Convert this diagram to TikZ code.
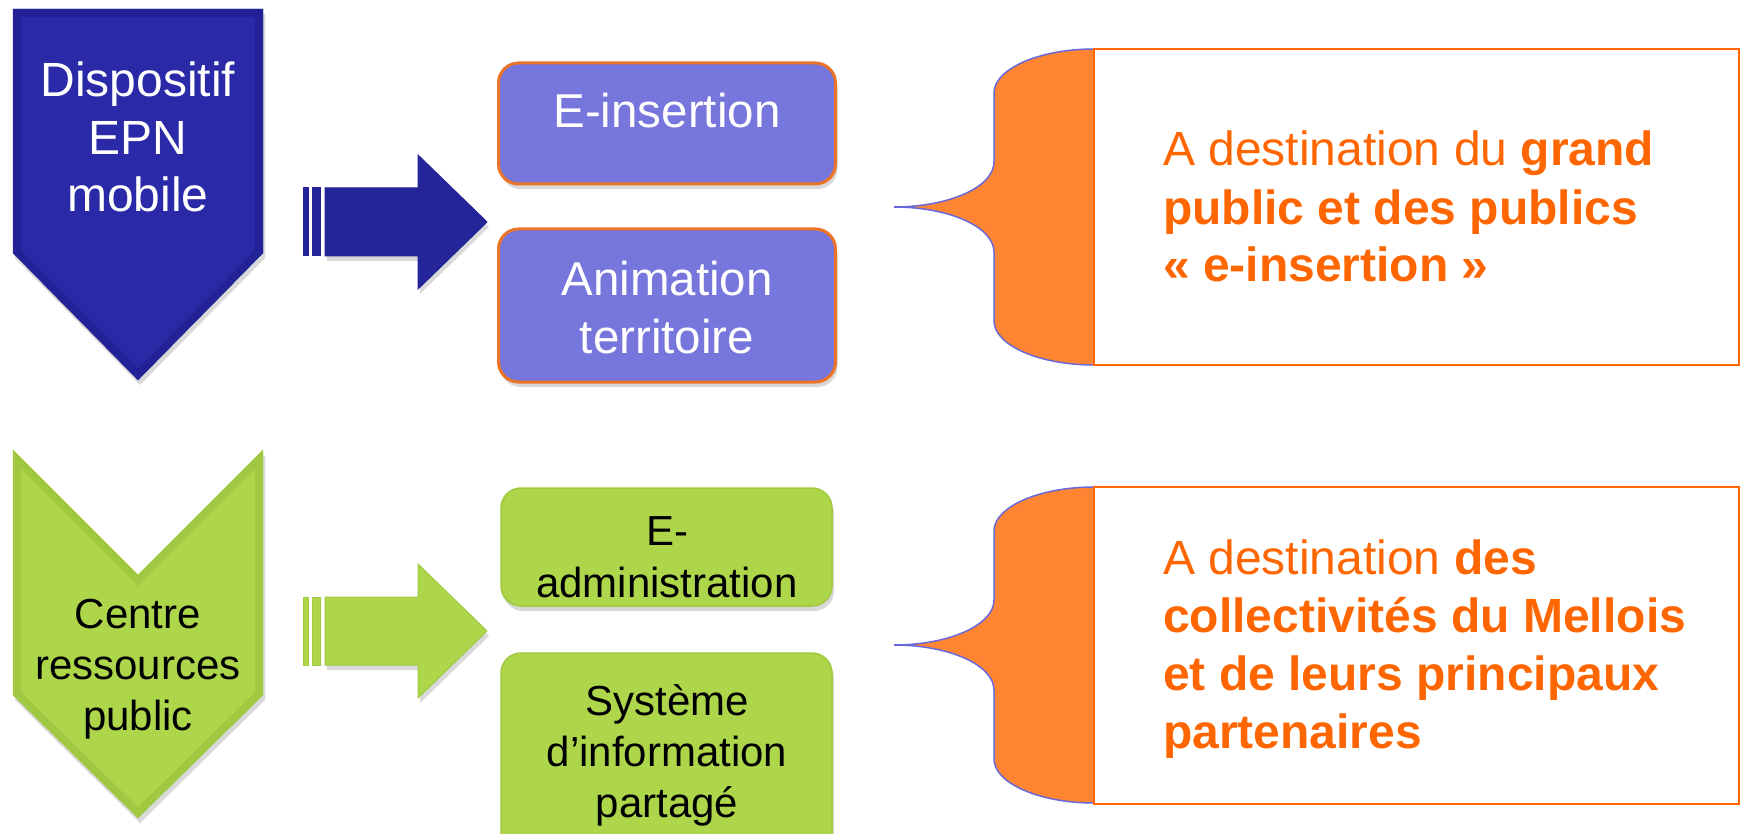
\documentclass[tikz,border=0pt]{standalone}
\usepackage{fontspec}
\setmainfont{Liberation Sans}
\usetikzlibrary{positioning,shadows}

\definecolor{epnblue}{HTML}{2A2AA8}
\definecolor{epnedge}{HTML}{222296}
\definecolor{epnarrow}{HTML}{25259A}
\definecolor{lilac}{HTML}{7676DD}
\definecolor{rim}{HTML}{EC7426}
\definecolor{leaf}{HTML}{AED64B}
\definecolor{leafedge}{HTML}{A0C841}
\definecolor{flame}{HTML}{FF6600}
\definecolor{bracefill}{HTML}{FF8533}
\definecolor{braceline}{HTML}{6868D8}

\begin{document}
\begin{tikzpicture}
	[
	x=1pt,y=-1pt,
	softshadow/.style={drop shadow={shadow xshift=2pt,shadow yshift=-5pt,opacity=0.3}},
	boxitem/.style={rectangle,rounded corners=20pt,minimum width=337pt,outer sep=0pt,softshadow},
	blueitem/.style={boxitem,fill=lilac,draw=rim,line width=3pt},
	greenitem/.style={boxitem,fill=leaf,draw=leafedge,line width=1.5pt,minimum width=331pt},
	captiontext/.style={align=center,anchor=base,inner sep=0pt},
	targettext/.style={align=left,anchor=base west,inner sep=0pt,text=flame,font=\fontsize{48}{58}\selectfont},
	targetbox/.style={rectangle,draw=flame,line width=2pt,outer sep=0pt,minimum width=645pt},
	bracepath/.style={fill=bracefill,draw=braceline,line width=1.5pt},
	]
	\useasboundingbox (0,0) rectangle (1742,834);

	% chevrons
	\filldraw[fill=epnedge,draw=epnedge,softshadow] (13,9) -- (263,9) -- (263,253) -- (138,380) -- (13,253) -- cycle;
	\fill[epnblue] (21,17) -- (255,17) -- (255,250) -- (138,368) -- (21,250) -- cycle;
	\filldraw[fill=leafedge,draw=leafedge,softshadow] (13,450) -- (138,575) -- (263,450) -- (263,695) -- (138,818) -- (13,695) -- cycle;
	\fill[leaf] (21,469) -- (138,586) -- (255,469) -- (255,692) -- (138,807) -- (21,692) -- cycle;

	% base = last line
	\node[captiontext,text=white,font=\fontsize{48}{57.5}\selectfont] (epn) at (138,212) {Dispositif\\EPN\\mobile};
	\node[captiontext,font=\fontsize{42}{51}\selectfont] (centre) at (138,730) {Centre\\ressources\\public};

	% arrows
	\foreach \ya/\col/\edge in {222/epnarrow/epnedge,631/leaf/leafedge}
	{
		\filldraw[fill=\col,draw=\edge,line width=1pt] (303,\ya-34) rectangle (308,\ya+34);
		\filldraw[fill=\col,draw=\edge,line width=1pt] (312,\ya-34) rectangle (320,\ya+34);
		\filldraw[fill=\col,draw=\edge,line width=1pt,softshadow] (325,\ya-34) -- (418,\ya-34) -- (418,\ya-67) -- (487,\ya) -- (418,\ya+67) -- (418,\ya+34) -- (325,\ya+34) -- cycle;
	}

	% boxes
	\node[blueitem,minimum height=121pt] (ins) at (667,123.5) {};
	\node[blueitem,minimum height=153pt] (anim) at (667,305.5) {};
	\node[greenitem,minimum height=118pt] (admin) at (666.5,547) {};
	\node[greenitem,minimum height=200pt] (sys) at (666.5,753) {};

	\node[captiontext,text=white,font=\fontsize{47.5}{58}\selectfont] (ins text) at (667,128) {E-insertion};
	\node[captiontext,text=white,font=\fontsize{47.5}{58}\selectfont] (anim text) at (667,353) {Animation\\territoire};
	\node[captiontext,font=\fontsize{42}{52}\selectfont] (admin text) at (667,597) {E-\\administration};
	\node[captiontext,font=\fontsize{42}{51}\selectfont] (sys text) at (667,817) {Système\\d’information\\partagé};

	% publics
	\node[targetbox,minimum height=316pt] (pub) at (1416.5,207) {};
	\node[targetbox,minimum height=317pt] (org) at (1416.5,645.5) {};
	\foreach \r in {pub,org}
		\draw[bracepath] (\r.north west) .. controls +(-55,0) and +(0,-24) .. ++(-100,44) -- ++(0,69)
			.. controls +(0,25) and +(55,0) .. ++(-100,45) .. controls +(55,0) and +(0,-25) .. ++(100,45)
			-- ++(0,69) .. controls +(0,24) and +(-55,0) .. ++(100,44);
	\node[targetbox,minimum height=316pt] (pub frame) at (pub) {};
	\node[targetbox,minimum height=317pt] (org frame) at (org) {};

	\node[targettext] (pub text) at (1163,282) {A destination du \textbf{grand}\\\textbf{public et des publics}\\\textbf{« e-insertion »}};
	\node[targettext] (org text) at (1163,748) {A destination \textbf{des}\\\textbf{collectivités du Mellois}\\\textbf{et de leurs principaux}\\\textbf{partenaires}};
\end{tikzpicture}
\end{document}
